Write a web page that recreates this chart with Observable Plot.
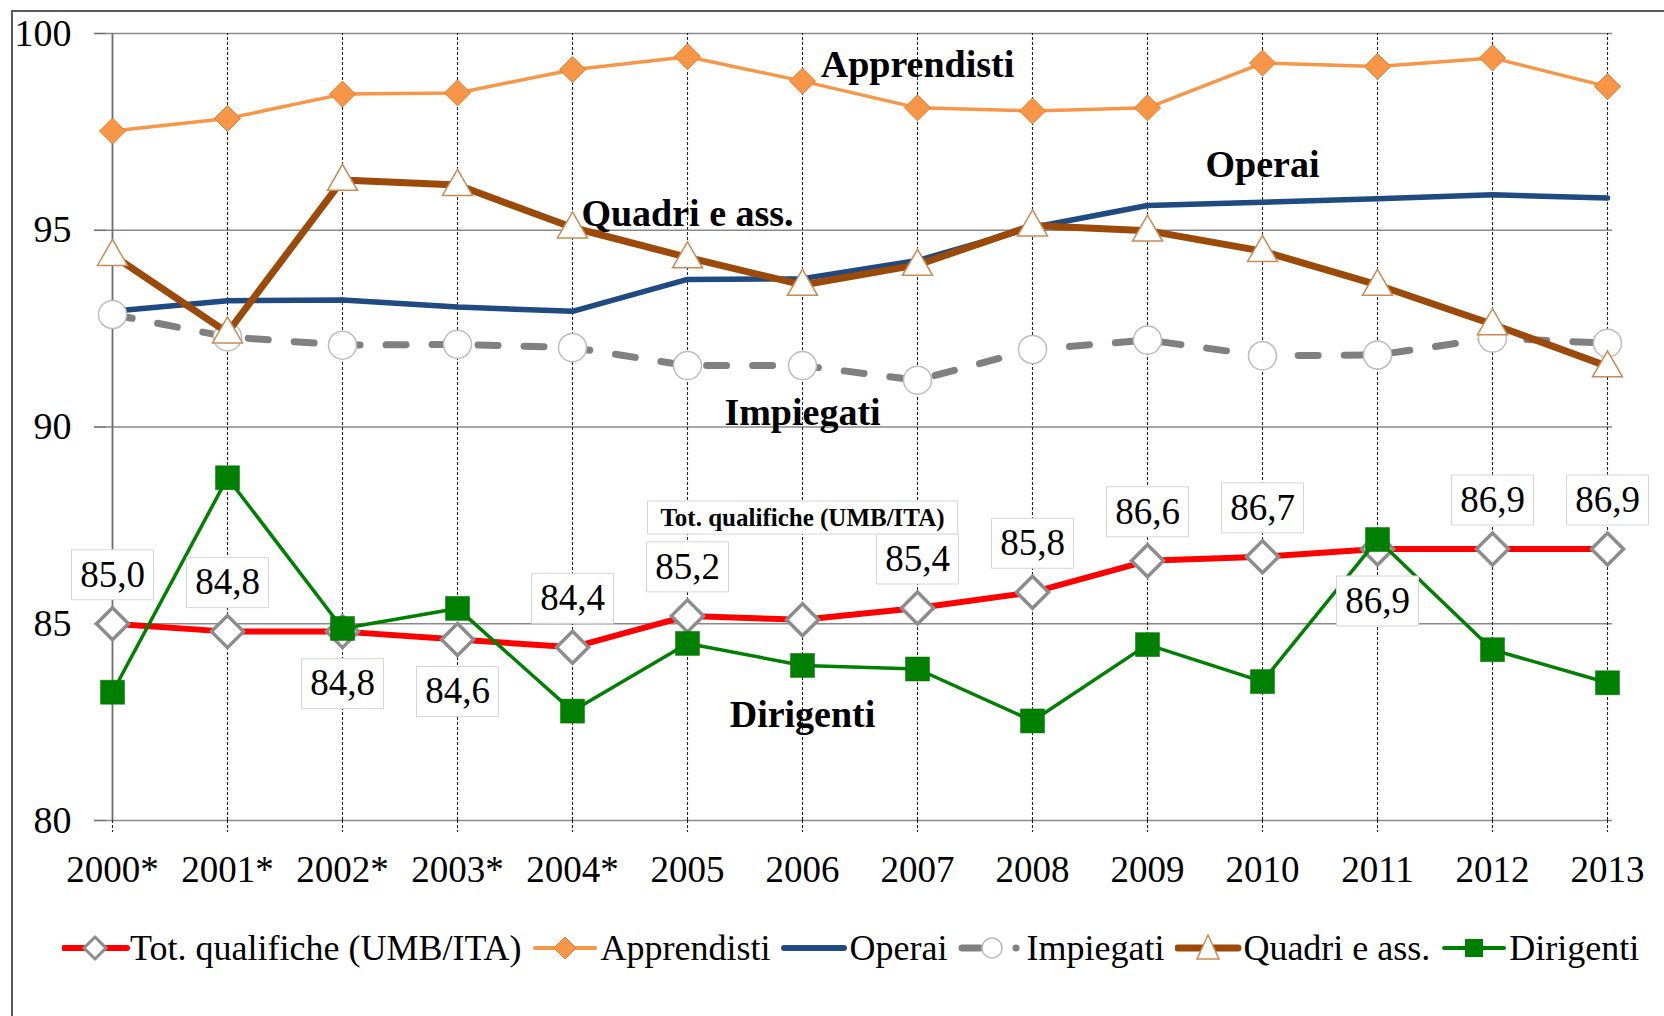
<!DOCTYPE html>
<html>
<head>
<meta charset="utf-8">
<script src="https://cdn.jsdelivr.net/npm/d3@7"></script>
<script src="https://cdn.jsdelivr.net/npm/@observablehq/plot@0.6"></script>
<style>
  html, body { margin: 0; padding: 0; background: #fff; }
  #wrap { position: relative; width: 1664px; height: 1016px; overflow: hidden; }
  #chart { position: absolute; left: 0; top: 0; }
  #frame { position: absolute; left: 11px; top: 10px; width: 3000px; height: 3000px;
           border-left: 2px solid #5a5a5a; border-top: 2px solid #5a5a5a; pointer-events: none; }
  #legend { position: absolute; left: 62px; top: 922px; height: 52px; display: flex; align-items: center;
            font-family: "Liberation Serif", serif; font-size: 36px; color: #000; white-space: nowrap; }
  #legend .item { display: flex; align-items: center; margin-right: 11px; }
  #legend svg { display: block; }
</style>
</head>
<body>
<div id="wrap">
  <div id="chart"></div>
  <div id="legend"></div>
  <div id="frame"></div>
</div>
<script>
// ---- data ----
const years = ["2000*", "2001*", "2002*", "2003*", "2004*", "2005", "2006", "2007", "2008", "2009", "2010", "2011", "2012", "2013"];
const totQualifiche = [85.0, 84.8, 84.8, 84.6, 84.4, 85.2, 85.1, 85.4, 85.8, 86.6, 86.7, 86.9, 86.9, 86.9];
const apprendisti   = [97.52, 97.84, 98.46, 98.49, 99.08, 99.41, 98.79, 98.11, 98.03, 98.11, 99.25, 99.16, 99.38, 98.65];
const operai        = [92.94, 93.21, 93.23, 93.05, 92.94, 93.75, 93.77, 94.23, 95.07, 95.63, 95.71, 95.80, 95.90, 95.82];
const impiegati     = [92.86, 92.29, 92.08, 92.10, 92.02, 91.56, 91.56, 91.19, 91.97, 92.21, 91.81, 91.83, 92.26, 92.13];
const quadri        = [94.37, 92.40, 96.28, 96.15, 95.07, 94.31, 93.61, 94.12, 95.12, 94.99, 94.47, 93.61, 92.61, 91.54];
const dirigenti     = [83.26, 88.71, 84.88, 85.39, 82.78, 84.50, 83.94, 83.85, 82.53, 84.47, 83.53, 87.14, 84.34, 83.50];
const yTicks = [80, 85, 90, 95, 100];

// in-chart series names and their anchor (category, value)
const seriesNames   = ["Apprendisti", "Operai", "Quadri e ass.", "Impiegati", "Dirigenti"];
const seriesNameX   = ["2007", "2010", "2005", "2006", "2006"];
const seriesNameY   = [99.21, 96.66, 95.43, 90.37, 82.69];
const totNote = "Tot. qualifiche (UMB/ITA)";
const totNoteX = "2006";
const totNoteY = 87.70;

const legendNames = ["Tot. qualifiche (UMB/ITA)", "Apprendisti", "Operai", "Impiegati", "Quadri e ass.", "Dirigenti"];

// ---- helpers ----
const rows = arr => years.map((year, i) => ({year, value: arr[i]}));
const fmt = v => d3.format(".1f")(v).replace(".", ",");
const diamondSym = h => ({draw(c) { c.moveTo(0, -h); c.lineTo(h, 0); c.lineTo(0, h); c.lineTo(-h, 0); c.closePath(); }});
const squareSym = s => ({draw(c) { c.rect(-s / 2, -s / 2, s, s); }});
const triSym = (w, h) => ({draw(c) { c.moveTo(0, -h * 0.6); c.lineTo(w / 2, h * 0.4); c.lineTo(-w / 2, h * 0.4); c.closePath(); }});
const rectSym = (w, h) => ({draw(c) { c.rect(-w / 2, -h / 2, w, h); }});

const C = {
  tot: "#ff0000", totMark: "#8c8c8c",
  app: "#f79646", appMark: "#e07b30",
  ope: "#1f4a82",
  imp: "#808080", impMark: "#bdbdbd",
  qua: "#9c4a09", quaMark: "#c98a55",
  dir: "#008000"
};

const totRows = rows(totQualifiche);
const skipLabel = new Set(["2006"]);
const belowLabel = new Set(["2002*", "2003*", "2011"]);
const labelsAbove = totRows.filter(d => !skipLabel.has(d.year) && !belowLabel.has(d.year));
const labelsBelow = totRows.filter(d => belowLabel.has(d.year));
const nameRows = seriesNames.map((n, i) => ({name: n, x: seriesNameX[i], y: seriesNameY[i]}));

const chart = Plot.plot({
  width: 1664,
  height: 900,
  marginTop: 33,
  marginLeft: 106,
  marginRight: 52,
  marginBottom: 80,
  style: {fontFamily: "'Liberation Serif', serif", fontSize: "37px", color: "#000", background: "transparent"},
  x: {type: "point", domain: years, padding: 0},
  y: {domain: [80, 100]},
  marks: [
    Plot.ruleY(yTicks, {stroke: "#8a8a8a", strokeWidth: 1.6}),
    Plot.ruleX(years.slice(1), {y1: 80, y2: 100, stroke: "#222", strokeWidth: 1.1, strokeDasharray: "3,2"}),
    Plot.ruleX(years.slice(0, 1), {y1: 80, y2: 100, stroke: "#6e6e6e", strokeWidth: 1.8}),
    Plot.axisY(yTicks, {tickSize: 12, tickPadding: 23, stroke: "#6e6e6e", strokeWidth: 1.6, fontSize: 38, label: null}),
    Plot.axisX({tickSize: 12, tickPadding: 23, stroke: "#222", strokeWidth: 1.1, strokeDasharray: "3,2", fontSize: 37, label: null}),

    // Tot. qualifiche
    Plot.line(totRows, {x: "year", y: "value", stroke: C.tot, strokeWidth: 6}),
    Plot.dot(totRows, {x: "year", y: "value", symbol: diamondSym(16), fill: "white", stroke: C.totMark, strokeWidth: 3.5}),
    // Apprendisti
    Plot.line(rows(apprendisti), {x: "year", y: "value", stroke: C.app, strokeWidth: 3.5}),
    Plot.dot(rows(apprendisti), {x: "year", y: "value", symbol: diamondSym(13), fill: C.app, stroke: C.appMark, strokeWidth: 1}),
    // Operai
    Plot.line(rows(operai), {x: "year", y: "value", stroke: C.ope, strokeWidth: 5.5}),
    // Impiegati
    Plot.line(rows(impiegati), {x: "year", y: "value", stroke: C.imp, strokeWidth: 7, strokeDasharray: "20,26", strokeLinecap: "round"}),
    Plot.dot(rows(impiegati), {x: "year", y: "value", r: 14, fill: "white", stroke: C.impMark, strokeWidth: 1.5}),
    // Quadri e ass.
    Plot.line(rows(quadri), {x: "year", y: "value", stroke: C.qua, strokeWidth: 7}),
    Plot.dot(rows(quadri), {x: "year", y: "value", symbol: triSym(30, 26), fill: "white", stroke: C.quaMark, strokeWidth: 1.5}),
    // Dirigenti
    Plot.line(rows(dirigenti), {x: "year", y: "value", stroke: C.dir, strokeWidth: 3.5}),
    Plot.dot(rows(dirigenti), {x: "year", y: "value", symbol: squareSym(24), fill: C.dir, stroke: "#0a6a0a", strokeWidth: 0.5}),

    // value labels for Tot. qualifiche
    Plot.dot(labelsAbove, {x: "year", y: "value", dy: -49, symbol: rectSym(82, 50), fill: "white", stroke: "#d6d6d6", strokeWidth: 1}),
    Plot.text(labelsAbove, {x: "year", y: "value", dy: -49, text: d => fmt(d.value), fontSize: 37, fill: "#000"}),
    Plot.dot(labelsBelow, {x: "year", y: "value", dy: 52, symbol: rectSym(82, 50), fill: "white", stroke: "#d6d6d6", strokeWidth: 1}),
    Plot.text(labelsBelow, {x: "year", y: "value", dy: 52, text: d => fmt(d.value), fontSize: 37, fill: "#000"}),

    // note box
    Plot.dot([{x: totNoteX, y: totNoteY}], {x: "x", y: "y", symbol: rectSym(310, 33), fill: "white", stroke: "#d6d6d6", strokeWidth: 1}),
    Plot.text([{x: totNoteX, y: totNoteY, t: totNote}], {x: "x", y: "y", text: "t", fontSize: 25, fontWeight: "bold", fill: "#000"}),

    // series names
    Plot.text(nameRows, {x: "x", y: "y", text: "name", fontSize: 38, fontWeight: "bold", fill: "#000"})
  ]
});
document.getElementById("chart").appendChild(chart);

// ---- legend ----
const ns = "http://www.w3.org/2000/svg";
function el(tag, attrs, parent) {
  const e = document.createElementNS(ns, tag);
  for (const k in attrs) e.setAttribute(k, attrs[k]);
  if (parent) parent.appendChild(e);
  return e;
}
const swatches = [
  s => { el("line", {x1: 2, x2: 65, y1: 20, y2: 20, stroke: C.tot, "stroke-width": 6, "stroke-linecap": "round"}, s);
         el("path", {d: "M33,9 L44,20 L33,31 L22,20 Z", fill: "white", stroke: C.totMark, "stroke-width": 3}, s); },
  s => { el("line", {x1: 2, x2: 62, y1: 20, y2: 20, stroke: C.app, "stroke-width": 4, "stroke-linecap": "round"}, s);
         el("path", {d: "M32,9 L43,20 L32,31 L21,20 Z", fill: C.app, stroke: C.appMark, "stroke-width": 1}, s); },
  s => { el("line", {x1: 3, x2: 63, y1: 20, y2: 20, stroke: C.ope, "stroke-width": 6, "stroke-linecap": "round"}, s); },
  s => { el("line", {x1: 4, x2: 22, y1: 20, y2: 20, stroke: C.imp, "stroke-width": 7, "stroke-linecap": "round"}, s);
         el("circle", {cx: 34, cy: 20, r: 10, fill: "white", stroke: C.impMark, "stroke-width": 1.5}, s);
         el("circle", {cx: 58, cy: 20, r: 3.5, fill: C.imp}, s); },
  s => { el("line", {x1: 3, x2: 63, y1: 20, y2: 20, stroke: C.qua, "stroke-width": 7, "stroke-linecap": "round"}, s);
         el("path", {d: "M33,7 L44,31 L22,31 Z", fill: "white", stroke: C.quaMark, "stroke-width": 1.5}, s); },
  s => { el("line", {x1: 3, x2: 63, y1: 20, y2: 20, stroke: C.dir, "stroke-width": 4, "stroke-linecap": "round"}, s);
         el("rect", {x: 24, y: 11, width: 18, height: 18, fill: C.dir}, s); }
];
const legend = document.getElementById("legend");
legendNames.forEach((name, i) => {
  const item = document.createElement("div");
  item.className = "item";
  const s = el("svg", {width: 68, height: 40});
  swatches[i](s);
  item.appendChild(s);
  const t = document.createElement("span");
  t.textContent = name;
  item.appendChild(t);
  legend.appendChild(item);
});
</script>
</body>
</html>
